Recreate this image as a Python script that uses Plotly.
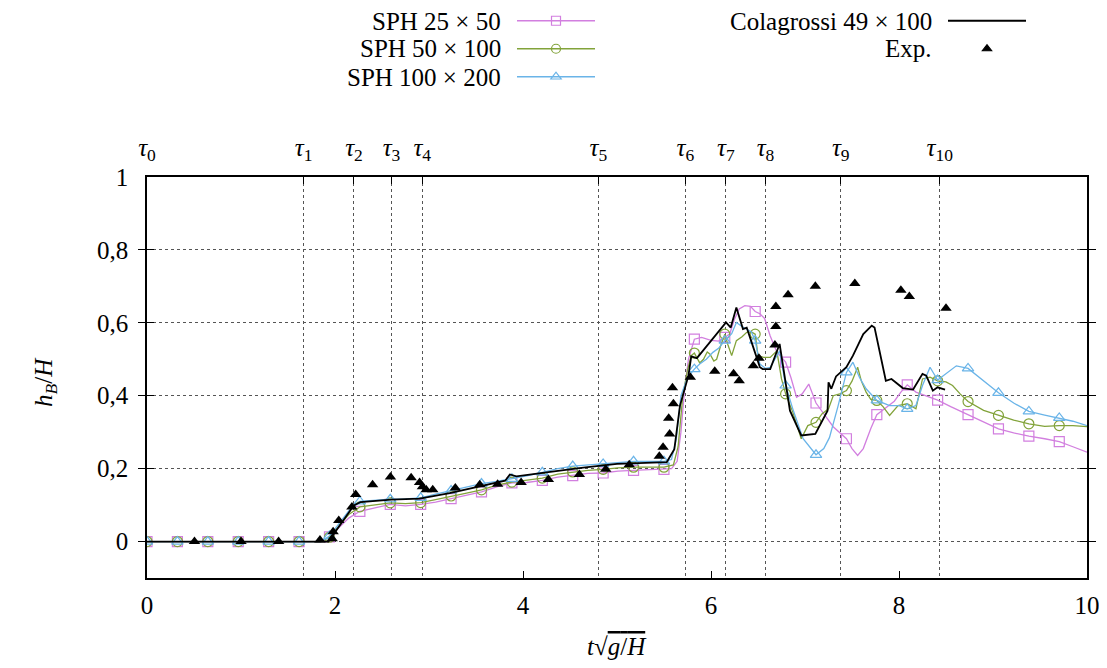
import plotly.graph_objects as go

# ---------------- data ----------------
tau_t = [0, 1.666, 2.202, 2.601, 2.928, 4.801, 5.728, 6.158, 6.580, 7.380, 8.433]
tau_labels = ["<i>τ</i><sub>0</sub>", "<i>τ</i><sub>1</sub>", "<i>τ</i><sub>2</sub>",
              "<i>τ</i><sub>3</sub>", "<i>τ</i><sub>4</sub>", "<i>τ</i><sub>5</sub>",
              "<i>τ</i><sub>6</sub>", "<i>τ</i><sub>7</sub>", "<i>τ</i><sub>8</sub>",
              "<i>τ</i><sub>9</sub>", "<i>τ</i><sub>10</sub>"]

x_ticks = [0, 2, 4, 6, 8, 10]
y_ticks = [0, 0.2, 0.4, 0.6, 0.8, 1]
y_ticktext = ["0", "0,2", "0,4", "0,6", "0,8", "1"]

# marker times (shared by the three SPH runs)
t_marks = [0.0, 0.3235, 0.647, 0.9705, 1.294, 1.6175, 1.941, 2.2645, 2.588, 2.9115,
           3.235, 3.5585, 3.882, 4.2055, 4.529, 4.8525, 5.176, 5.4995, 5.823, 6.1465,
           6.47, 6.7935, 7.117, 7.4405, 7.764, 8.0875, 8.411, 8.7345, 9.058, 9.3815, 9.705]

sph25_marks = [0, 0, 0, 0, 0, 0, 0.013, 0.083, 0.102, 0.102, 0.118, 0.136, 0.161, 0.168,
               0.181, 0.188, 0.195, 0.198, 0.555, 0.56, 0.631, 0.492, 0.380, 0.282, 0.348,
               0.430, 0.388, 0.348, 0.309, 0.289, 0.274]
sph50_marks = [0, 0, 0, 0, 0, 0, 0.012, 0.095, 0.106, 0.107, 0.125, 0.142, 0.163, 0.174,
               0.191, 0.198, 0.204, 0.204, 0.517, 0.569, 0.569, 0.405, 0.327, 0.414, 0.387,
               0.378, 0.441, 0.384, 0.346, 0.323, 0.318]
sph100_marks = [0, 0, 0, 0, 0, 0, 0.015, 0.110, 0.116, 0.120, 0.140, 0.159, 0.172, 0.190,
                0.207, 0.213, 0.220, 0.220, 0.473, 0.551, 0.551, 0.428, 0.238, 0.464, 0.387,
                0.364, 0.443, 0.475, 0.408, 0.357, 0.339]

sph25_t = [0, 1.85, 1.941, 2.05, 2.15, 2.265, 2.42, 2.588, 2.75, 2.912, 3.07, 3.235, 3.4, 3.559,
           3.72, 3.882, 4.04, 4.206, 4.37, 4.529, 4.69, 4.853, 5.01, 5.176, 5.34, 5.50, 5.58,
           5.64, 5.68, 5.72, 5.76, 5.823, 5.9, 6.0, 6.08, 6.147, 6.2, 6.25, 6.3, 6.36, 6.42,
           6.47, 6.52, 6.57, 6.63, 6.70, 6.794, 6.85, 6.91, 6.97, 7.04, 7.117, 7.2, 7.3, 7.441,
           7.5, 7.56, 7.62, 7.7, 7.764, 7.85, 7.95, 8.02, 8.088, 8.18, 8.3, 8.411, 8.55, 8.735,
           8.9, 9.058, 9.22, 9.382, 9.55, 9.705, 9.85, 10.0]
sph25_h = [0, 0, 0.013, 0.04, 0.065, 0.083, 0.093, 0.102, 0.098, 0.102, 0.108, 0.118, 0.127,
           0.136, 0.15, 0.161, 0.162, 0.168, 0.177, 0.181, 0.187, 0.188, 0.193, 0.195, 0.197,
           0.198, 0.2, 0.22, 0.30, 0.42, 0.50, 0.555, 0.56, 0.552, 0.55, 0.56, 0.57, 0.61,
           0.638, 0.647, 0.645, 0.631, 0.625, 0.612, 0.564, 0.52, 0.492, 0.45, 0.396, 0.405,
           0.432, 0.38, 0.35, 0.315, 0.282, 0.255, 0.236, 0.255, 0.31, 0.348, 0.365, 0.385,
           0.41, 0.43, 0.41, 0.398, 0.388, 0.37, 0.348, 0.33, 0.309, 0.298, 0.289, 0.282,
           0.274, 0.26, 0.245]

sph50_t = [0, 1.85, 1.941, 2.05, 2.15, 2.265, 2.42, 2.588, 2.75, 2.912, 3.07, 3.235, 3.4, 3.559,
           3.72, 3.882, 4.04, 4.206, 4.37, 4.529, 4.69, 4.853, 5.01, 5.176, 5.34, 5.50, 5.6,
           5.65, 5.70, 5.75, 5.79, 5.823, 5.88, 5.92, 5.96, 5.99, 6.03, 6.06, 6.10, 6.147, 6.18,
           6.22, 6.27, 6.33, 6.38, 6.43, 6.47, 6.50, 6.56, 6.63, 6.70, 6.75, 6.794, 6.87, 6.96,
           7.03, 7.117, 7.18, 7.25, 7.30, 7.37, 7.441, 7.50, 7.56, 7.60, 7.65, 7.70, 7.764,
           7.83, 7.90, 7.99, 8.088, 8.18, 8.25, 8.33, 8.411, 8.5, 8.57, 8.65, 8.735, 8.9,
           9.058, 9.22, 9.382, 9.55, 9.705, 9.85, 10.0]
sph50_h = [0, 0, 0.012, 0.045, 0.075, 0.095, 0.1, 0.106, 0.104, 0.107, 0.115, 0.125, 0.133,
           0.142, 0.155, 0.163, 0.168, 0.174, 0.185, 0.191, 0.195, 0.198, 0.202, 0.204, 0.205,
           0.204, 0.21, 0.26, 0.40, 0.47, 0.51, 0.517, 0.49, 0.50, 0.52, 0.514, 0.495, 0.50,
           0.535, 0.569, 0.54, 0.51, 0.551, 0.562, 0.574, 0.575, 0.569, 0.51, 0.505, 0.505,
           0.523, 0.446, 0.405, 0.355, 0.282, 0.318, 0.327, 0.35, 0.364, 0.40, 0.405, 0.414,
           0.44, 0.478, 0.44, 0.41, 0.39, 0.387, 0.37, 0.346, 0.373, 0.378, 0.364, 0.446,
           0.451, 0.441, 0.438, 0.428, 0.405, 0.384, 0.36, 0.346, 0.333, 0.323, 0.316, 0.318,
           0.318, 0.315]

sph100_t = [0, 1.85, 1.941, 2.05, 2.15, 2.265, 2.42, 2.588, 2.75, 2.912, 3.07, 3.235, 3.4,
            3.559, 3.72, 3.882, 4.04, 4.206, 4.37, 4.529, 4.69, 4.853, 5.01, 5.176, 5.34, 5.50,
            5.58, 5.63, 5.68, 5.75, 5.823, 5.88, 5.95, 6.02, 6.08, 6.147, 6.22, 6.27, 6.33,
            6.38, 6.43, 6.47, 6.52, 6.58, 6.63, 6.68, 6.73, 6.794, 6.87, 6.98, 7.05, 7.117,
            7.2, 7.26, 7.35, 7.441, 7.51, 7.58, 7.65, 7.764, 7.90, 8.0, 8.088, 8.18, 8.25,
            8.33, 8.411, 8.5, 8.61, 8.735, 8.9, 9.058, 9.22, 9.382, 9.55, 9.705, 9.85, 10.0]
sph100_h = [0, 0, 0.015, 0.05, 0.085, 0.110, 0.113, 0.116, 0.117, 0.120, 0.13, 0.140, 0.15,
            0.159, 0.165, 0.172, 0.18, 0.19, 0.2, 0.207, 0.21, 0.213, 0.217, 0.220, 0.22, 0.22,
            0.225, 0.28, 0.40, 0.45, 0.473, 0.487, 0.50, 0.519, 0.53, 0.551, 0.57, 0.601, 0.59,
            0.583, 0.575, 0.551, 0.487, 0.475, 0.478, 0.50, 0.523, 0.428, 0.364, 0.282, 0.259,
            0.238, 0.255, 0.285, 0.37, 0.464, 0.492, 0.45, 0.419, 0.387, 0.373, 0.373, 0.364,
            0.373, 0.428, 0.478, 0.443, 0.46, 0.482, 0.475, 0.44, 0.408, 0.38, 0.357, 0.347,
            0.339, 0.33, 0.318]

cola_t = [0, 1.93, 2.2, 2.27, 2.6, 2.9, 3.22, 3.58, 3.81, 3.86, 3.93, 4.29, 4.64, 5.0, 5.53,
          5.61, 5.67, 5.76, 5.79, 5.85, 6.16, 6.21, 6.27, 6.34, 6.38, 6.42, 6.52, 6.55, 6.63,
          6.73, 6.84, 6.96, 7.11, 7.24, 7.25, 7.28, 7.33, 7.44, 7.51, 7.62, 7.71, 7.74, 7.86,
          7.92, 8.04, 8.15, 8.25, 8.29, 8.36, 8.41, 8.49]
cola_h = [0, 0, 0.099, 0.108, 0.115, 0.118, 0.133, 0.154, 0.167, 0.184, 0.179, 0.191, 0.203,
          0.213, 0.218, 0.253, 0.373, 0.455, 0.508, 0.503, 0.601, 0.587, 0.642, 0.583, 0.587,
          0.556, 0.478, 0.473, 0.473, 0.542, 0.359, 0.291, 0.295, 0.359, 0.437, 0.419, 0.453,
          0.478, 0.510, 0.569, 0.592, 0.587, 0.441, 0.446, 0.421, 0.417, 0.460, 0.455, 0.414,
          0.423, 0.417]

exp_t = [0.505, 1.00, 1.40, 1.84, 1.97, 1.98, 2.04, 2.18, 2.22, 2.40, 2.59, 2.81, 2.90, 2.93,
         2.97, 3.04, 3.28, 3.54, 3.73, 3.98, 4.27, 4.60, 4.88, 5.13, 5.45, 5.49, 5.56, 5.55,
         5.60, 5.59, 5.78, 6.04, 6.24, 6.30, 6.45, 6.51, 6.68, 6.69, 6.69, 6.82, 7.11, 7.53,
         8.02, 8.11, 8.50]
exp_h = [0, 0, 0, 0.004, 0.008, 0.027, 0.058, 0.095, 0.129, 0.156, 0.177, 0.175, 0.162, 0.150,
         0.142, 0.142, 0.147, 0.156, 0.157, 0.162, 0.170, 0.184, 0.198, 0.211, 0.234, 0.259,
         0.295, 0.338, 0.378, 0.422, 0.451, 0.467, 0.460, 0.441, 0.482, 0.503, 0.539, 0.590,
         0.645, 0.677, 0.700, 0.708, 0.689, 0.672, 0.640]

names = ["SPH 25 × 50", "SPH 50 × 100", "SPH 100 × 200", "Colagrossi 49 × 100", "Exp."]

# ---------------- style ----------------
C_PINK = "#D27FDF"
C_GREEN = "#82A33A"
C_BLUE = "#6AB4E8"
FONT = "Liberation Serif"
FS = 25

fig = go.Figure()

sph = [
    (sph25_t, sph25_h, sph25_marks, C_PINK, "square-open", 10),
    (sph50_t, sph50_h, sph50_marks, C_GREEN, "circle-open", 10),
    (sph100_t, sph100_h, sph100_marks, C_BLUE, "triangle-up-open", 10),
]
for i, (tt, hh, mm, col, sym, ms) in enumerate(sph):
    fig.add_trace(go.Scatter(x=tt, y=hh, mode="lines", line=dict(color=col, width=1.3),
                             showlegend=False, hoverinfo="skip"))
    fig.add_trace(go.Scatter(x=t_marks, y=mm, mode="markers",
                             marker=dict(symbol=sym, size=ms, color=col, line=dict(width=1.2, color=col)),
                             showlegend=False))

fig.add_trace(go.Scatter(x=cola_t, y=cola_h, mode="lines", line=dict(color="black", width=1.8),
                         showlegend=False))
fig.add_trace(go.Scatter(x=exp_t, y=exp_h, mode="markers",
                         marker=dict(symbol="triangle-up", size=10, color="black"),
                         showlegend=False))

# legend proxies (one legend per entry, text placed to the left as in gnuplot)
legend_specs = [
    dict(col=C_PINK, sym="square-open", mode="lines+markers", lw=1.3),
    dict(col=C_GREEN, sym="circle-open", mode="lines+markers", lw=1.3),
    dict(col=C_BLUE, sym="triangle-up-open", mode="lines+markers", lw=1.3),
    dict(col="black", sym="circle", mode="lines", lw=1.8),
    dict(col="black", sym="triangle-up", mode="markers", lw=1.8),
]
leg_ids = ["legend", "legend2", "legend3", "legend4", "legend5"]
for spec, lid in zip(legend_specs, leg_ids):
    fig.add_trace(go.Scatter(x=[None], y=[None], mode=spec["mode"], name="",
                             line=dict(color=spec["col"], width=spec["lw"]),
                             marker=dict(symbol=spec["sym"], size=9 if spec["sym"] != "triangle-up" else 8,
                                         color=spec["col"], line=dict(width=1.2, color=spec["col"])),
                             legend=lid, showlegend=True))

# The page body has an 8px margin: figure is sized/placed so that the
# plot area lands at screen x 147..1087, y 177..578.
OFF = 8
W, H = 1107 - OFF, 668 - OFF
L, R, T, B = 147, 1087, 177, 578          # screen pixels
def px(xp):
    return (xp - L) / (R - L)
def py(yp):
    return (B - yp) / (B - T)

leg_rows = [21, 49, 77, 21, 49]
leg_x = [512, 512, 512, 943, 943]
legend_layout = {}
for lid, lx, ly in zip(leg_ids, leg_x, leg_rows):
    legend_layout[lid] = dict(x=px(lx), y=py(ly), xanchor="left", yanchor="middle",
                              bgcolor="rgba(0,0,0,0)", borderwidth=0, itemwidth=78,
                              font=dict(family=FONT, size=FS, color="black"),
                              itemclick=False, itemdoubleclick=False)

annotations = []
text_right = [503, 503, 503, 934, 934]
for name, tx, ty in zip(names, text_right, leg_rows):
    annotations.append(dict(text=name, x=px(tx), y=py(ty), xref="paper", yref="paper",
                            xanchor="right", yanchor="middle", showarrow=False,
                            font=dict(family=FONT, size=FS, color="black")))
annotations.append(dict(text="<i>h</i><sub><i>B</i></sub>/<i>H</i>", x=px(45), y=py(382),
                        xref="paper", yref="paper", textangle=-90, showarrow=False,
                        xanchor="center", yanchor="middle",
                        font=dict(family=FONT, size=FS, color="black")))
annotations.append(dict(text="<i>t</i>√<span style='text-decoration:overline'><i>g</i>/<i>H</i></span>",
                        x=px(617), y=py(646), xref="paper", yref="paper", showarrow=False,
                        xanchor="center", yanchor="middle",
                        font=dict(family=FONT, size=FS, color="black")))

fig.update_layout(
    width=W, height=H,
    margin=dict(l=L - OFF, r=W - (R - OFF), t=T - OFF, b=H - (B - OFF), autoexpand=False),
    paper_bgcolor="white", plot_bgcolor="white",
    font=dict(family=FONT, size=FS, color="black"),
    xaxis=dict(range=[0, 10], tickvals=x_ticks, ticks="inside", ticklen=7, tickcolor="black",
               showline=True, linecolor="black", linewidth=1.5, mirror=True,
               showgrid=False, zeroline=False, ticklabelstandoff=4,
               tickfont=dict(family=FONT, size=FS)),
    xaxis2=dict(range=[0, 10], overlaying="x", side="top", tickvals=tau_t, ticktext=tau_labels,
                ticks="inside", ticklen=7, tickcolor="black", showline=False,
                showgrid=True, gridcolor="#555", griddash="dot", gridwidth=1,
                zeroline=False, ticklabelstandoff=15, tickfont=dict(family=FONT, size=FS)),
    yaxis=dict(range=[-0.1, 1], tickvals=y_ticks, ticktext=y_ticktext, ticks="inside",
               ticklen=7, tickcolor="black", showline=True, linecolor="black", linewidth=1.5,
               mirror="allticks", showgrid=True, gridcolor="#555", griddash="dot", gridwidth=1,
               zeroline=False, ticklabelstandoff=12, tickfont=dict(family=FONT, size=FS)),
    annotations=annotations,
    **legend_layout,
)

# invisible trace on xaxis2 so the top (tau) axis is drawn
fig.add_trace(go.Scatter(x=[None], y=[None], xaxis="x2", showlegend=False))

fig.write_html("out.html")
